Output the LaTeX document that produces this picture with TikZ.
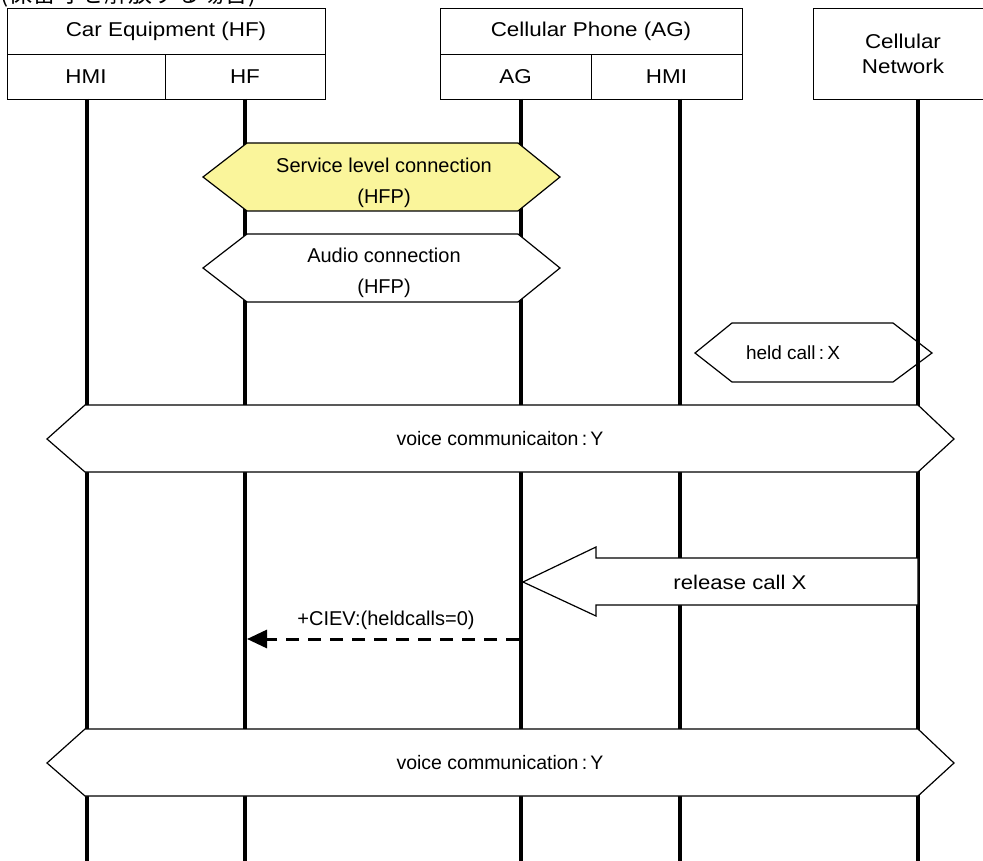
\documentclass[tikz,border=0pt]{standalone}
\usepackage{fontspec}
\setmainfont{Liberation Sans}
\newfontfamily\widefont[FakeStretch=1.12]{Liberation Sans}
\newfontfamily\jpfont{Noto Sans CJK JP}
\usetikzlibrary{arrows.meta}
\definecolor{slcyellow}{RGB}{250,245,155}
\begin{document}
\begin{tikzpicture}[x=1pt,y=-1pt,
  hbox/.style={draw=black,line width=0.9pt,inner sep=0pt,font=\widefont\fontsize{20}{25}\selectfont,align=center},
  life/.style={line width=4pt},
  hexa/.style={draw=black,line width=1.2pt,fill=white,line join=miter},
  lbl/.style={inner sep=0pt,font=\fontsize{20}{31}\selectfont,align=center},
  msg/.style={line width=3pt,dash pattern=on 13pt off 9pt,-{Triangle[length=20pt,width=18pt]}}]
\useasboundingbox (0,0) rectangle (983,861);
\clip (0,0) rectangle (983,861);
% title (cut off at top)
\node[anchor=base west,inner sep=0pt,font=\jpfont\fontsize{24}{24}\selectfont] (title) at (0,2.5) {(保留呼を解放する場合)};
% lifelines
\foreach \n/\x in {hmia/87,hf/245,ag/521,hmib/680,net/918}{
  \coordinate (\n-top) at (\x,99);
  \coordinate (\n-bot) at (\x,861);
  \draw[life] (\n-top) -- (\n-bot);
}
% header boxes
\node[hbox,minimum width=318pt,minimum height=46pt] (car) at (166,31) {Car Equipment (HF)};
\node[hbox,minimum width=158pt,minimum height=45pt] (carhmi) at (86,76.5) {HMI};
\node[hbox,minimum width=160pt,minimum height=45pt] (carhf) at (245,76.5) {HF};
\node[hbox,minimum width=302pt,minimum height=46pt] (phone) at (591,31) {Cellular Phone (AG)};
\node[hbox,minimum width=151pt,minimum height=45pt] (phag) at (515.5,76.5) {AG};
\node[hbox,minimum width=151pt,minimum height=45pt] (phhmi) at (666.5,76.5) {HMI};
\node[hbox,minimum width=180pt,minimum height=91pt] (network) at (903,53.5) {Cellular\\Network};
% service level connection
\draw[hexa,fill=slcyellow] (203,177) -- (247,143) -- (518,143) -- (560,177) -- (518,211) -- (247,211) -- cycle;
\node[lbl] (slc) at (384,182.5) {Service level connection\\(HFP)};
% audio connection
\draw[hexa] (203,268) -- (247,234) -- (518,234) -- (560,268) -- (518,302) -- (247,302) -- cycle;
\node[lbl] (audio) at (384,272.5) {Audio connection\\(HFP)};
% held call
\draw[hexa,fill=none] (695,353) -- (732,323) -- (893,323) -- (932,353) -- (893,382) -- (732,382) -- cycle;
\node[lbl,font=\fontsize{19}{23}\selectfont] (held) at (793,353) {held call\,:\,X};
% voice communication 1
\draw[hexa] (47,439) -- (85,405) -- (918,405) -- (954,439) -- (918,472) -- (85,472) -- cycle;
\node[lbl,font=\fontsize{19.5}{23}\selectfont] (voice1) at (500,439) {voice communicaiton\,:\,Y};
% release call
\draw[hexa] (523,582) -- (596,547) -- (596,558) -- (918,558) -- (918,605) -- (596,605) -- (596,616) -- cycle;
\node[lbl,font=\widefont\fontsize{19.8}{23}\selectfont] (release) at (740,582) {release call X};
% +CIEV
\coordinate (ciev-s) at (519,639);
\coordinate (ciev-e) at (247,639);
\draw[msg] (ciev-s) -- (ciev-e);
\node[lbl] (ciev) at (386,620) {+CIEV:(heldcalls=0)};
% voice communication 2
\draw[hexa] (47,763) -- (85,729) -- (918,729) -- (954,763) -- (918,796) -- (85,796) -- cycle;
\node[lbl,font=\fontsize{19.5}{23}\selectfont] (voice2) at (500,763) {voice communication\,:\,Y};
\end{tikzpicture}
\end{document}
